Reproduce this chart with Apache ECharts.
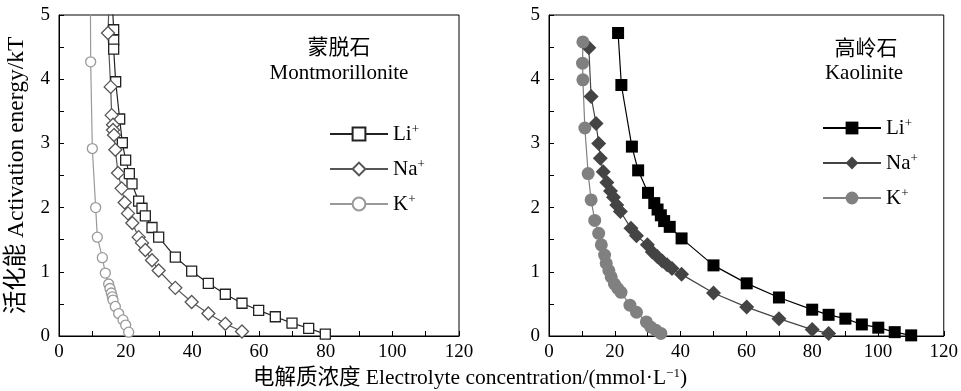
<!DOCTYPE html>
<html>
<head>
<meta charset="utf-8">
<script src="https://cdn.jsdelivr.net/npm/echarts@6/dist/echarts.min.js"></script>
<style>
html, body { margin: 0; padding: 0; background: #fff; }
#chart { width: 961px; height: 391px; }
</style>
</head>
<body>
<div id="chart"></div>
<script>
// 蒙脱石 Montmorillonite (open symbols)
var montLiX = [15.7, 16.4, 16.4, 16.4, 17.0, 18.2, 19.0, 20.0, 21.1, 21.9, 23.9, 24.9, 25.9, 27.9, 29.9, 34.9, 39.8, 44.8, 49.9, 54.9, 59.9, 64.9, 69.9, 74.9, 79.9];
var montLiY = [5.5, 4.77, 4.61, 4.47, 3.96, 3.38, 3.01, 2.74, 2.53, 2.37, 2.10, 1.99, 1.87, 1.69, 1.54, 1.23, 1.01, 0.82, 0.65, 0.51, 0.40, 0.30, 0.20, 0.12, 0.03];
var montNaX = [15.2, 14.7, 15.5, 15.8, 16.2, 16.2, 16.5, 16.9, 17.7, 18.8, 19.7, 20.7, 22.0, 23.9, 24.9, 25.9, 27.9, 29.9, 34.9, 39.8, 44.8, 49.9, 54.9];
var montNaY = [5.5, 4.72, 3.88, 3.44, 3.29, 3.21, 3.13, 2.90, 2.54, 2.30, 2.08, 1.91, 1.76, 1.54, 1.45, 1.34, 1.18, 1.02, 0.75, 0.53, 0.35, 0.19, 0.07];
var montKX = [9.4, 9.5, 10.0, 11.0, 11.5, 13.0, 13.9, 14.9, 15.3, 15.7, 16.0, 16.2, 16.9, 17.9, 19.2, 20.0, 20.9];
var montKY = [5.5, 4.27, 2.92, 2.00, 1.54, 1.22, 0.98, 0.81, 0.74, 0.67, 0.61, 0.56, 0.46, 0.35, 0.25, 0.17, 0.06];

// 高岭石 Kaolinite (filled symbols)
var kaoLiX = [21.0, 22.0, 25.2, 27.1, 30.1, 32.0, 33.0, 34.0, 35.0, 36.7, 40.3, 50.0, 60.1, 69.9, 80.0, 85.0, 90.1, 95.1, 100.1, 105.1, 110.1];
var kaoLiY = [4.72, 3.91, 2.95, 2.58, 2.23, 2.07, 1.97, 1.88, 1.79, 1.70, 1.52, 1.10, 0.82, 0.60, 0.41, 0.33, 0.27, 0.18, 0.13, 0.06, 0.01];
var kaoNaX = [12.1, 12.8, 14.3, 15.1, 15.6, 16.5, 17.6, 18.7, 19.6, 20.6, 21.7, 24.9, 26.6, 29.9, 31.4, 32.9, 34.4, 35.9, 37.4, 40.3, 50.0, 60.1, 69.9, 80.0, 85.0];
var kaoNaY = [4.49, 3.73, 3.31, 3.00, 2.77, 2.56, 2.39, 2.26, 2.16, 2.04, 1.94, 1.68, 1.56, 1.42, 1.31, 1.24, 1.17, 1.11, 1.05, 0.96, 0.67, 0.45, 0.27, 0.10, 0.04];
var kaoKX = [10.3, 10.2, 10.3, 10.9, 11.9, 12.8, 13.9, 15.1, 15.9, 16.9, 17.4, 18.2, 18.9, 19.9, 20.9, 21.9, 24.6, 26.6, 29.6, 30.9, 32.5, 34.0];
var kaoKY = [4.58, 4.25, 3.99, 3.24, 2.53, 2.12, 1.80, 1.60, 1.42, 1.26, 1.13, 1.02, 0.92, 0.81, 0.74, 0.68, 0.48, 0.37, 0.22, 0.14, 0.09, 0.04];

var ionLabels = {mLi: 'Li', mNa: 'Na', mK: 'K', kLi: 'Li', kNa: 'Na', kK: 'K'};

var FONT = "'Liberation Serif', 'Noto Sans CJK SC', serif";

function zip(xs, ys) {
    return xs.map(function (x, i) { return [x, ys[i]]; });
}

function makeX(idx) {
    return {
        type: 'value', gridIndex: idx, min: 0, max: 120, interval: 10,
        axisLine: {lineStyle: {color: '#000', width: 1}},
        axisTick: {inside: true, length: 5, lineStyle: {color: '#000'}},
        axisLabel: {
            margin: 7, fontSize: 19, color: '#000', fontFamily: FONT,
            formatter: function (v) { return v % 20 === 0 ? v : ''; }
        },
        splitLine: {show: false}
    };
}

function makeY(idx) {
    return {
        type: 'value', gridIndex: idx, min: 0, max: 5, interval: 0.5,
        axisLine: {show: true, lineStyle: {color: '#000', width: 1}},
        axisTick: {show: true, inside: true, length: 5, lineStyle: {color: '#000'}},
        axisLabel: {
            margin: 9, fontSize: 19, color: '#000', fontFamily: FONT,
            formatter: function (v) { return v % 1 === 0 ? v : ''; }
        },
        splitLine: {show: false}
    };
}

function lineSeries(name, idx, data, symbol, size, color, fill) {
    return {
        name: name, type: 'line', xAxisIndex: idx, yAxisIndex: idx,
        data: data, symbol: symbol, symbolSize: size, clip: true,
        showAllSymbol: true,
        lineStyle: {color: color, width: 1.2},
        itemStyle: {color: fill, borderColor: color, borderWidth: fill === '#fff' ? 1.3 : 0},
        emphasis: {disabled: true},
        z: 3
    };
}

function makeLegend(names, left, top) {
    return {
        data: names, orient: 'vertical', left: left, top: top, padding: 0,
        itemWidth: 58, itemHeight: 16, itemGap: 13,
        selectedMode: false,
        textStyle: {
            fontSize: 21, color: '#000', fontFamily: FONT, lineHeight: 22,
            rich: {
                n: {fontSize: 21, fontFamily: FONT, color: '#000'},
                s: {fontSize: 13, fontFamily: FONT, color: '#000', verticalAlign: 'top', lineHeight: 22}
            }
        },
        formatter: function (name) { return '{n|' + ionLabels[name] + '}{s|+}'; }
    };
}

function label(text, x, y) {
    return {type: 'text', style: {text: text, x: x, y: y, fontSize: 21, fontFamily: FONT, fill: '#000', textAlign: 'center', textVerticalAlign: 'middle'}};
}

var chart = echarts.init(document.getElementById('chart'), null, {renderer: 'canvas'});

var yLeft = makeY(0);
yLeft.name = '活化能 Activation energy/kT';
yLeft.nameLocation = 'middle';
yLeft.nameRotate = 90;
yLeft.nameGap = 30;
yLeft.nameTextStyle = {fontSize: 23.5, color: '#000', fontFamily: FONT};

var option = {
    backgroundColor: '#fff',
    animation: false,
    grid: [
        {left: 59, top: 15, width: 400, height: 321, show: true, borderColor: '#000', borderWidth: 1},
        {left: 549, top: 15, width: 398, height: 321, show: true, borderColor: '#000', borderWidth: 1}
    ],
    xAxis: [makeX(0), makeX(1)],
    yAxis: [yLeft, makeY(1)],
    legend: [
        makeLegend(['mLi', 'mNa', 'mK'], 329, 123),
        makeLegend(['kLi', 'kNa', 'kK'], 822, 117)
    ],
    graphic: [
        label('蒙脱石', 339, 48),
        label('Montmorillonite', 339, 73),
        label('高岭石', 866, 49),
        label('Kaolinite', 864, 73),
        {type: 'text', style: {
            text: '电解质浓度 Electrolyte concentration/(mmol·L{s|−1})',
            x: 470, y: 378, fontSize: 21.5, fontFamily: FONT, fill: '#000', textAlign: 'center', textVerticalAlign: 'middle',
            rich: {s: {fontSize: 13, fontFamily: FONT, fill: '#000', verticalAlign: 'top'}}
        }}
    ],
    series: [
        lineSeries('mLi', 0, zip(montLiX, montLiY), 'rect', 10, '#222', '#fff'),
        lineSeries('mNa', 0, zip(montNaX, montNaY), 'diamond', 13, '#555', '#fff'),
        lineSeries('mK', 0, zip(montKX, montKY), 'circle', 10, '#999', '#fff'),
        lineSeries('kLi', 1, zip(kaoLiX, kaoLiY), 'rect', 12, '#000', '#000'),
        lineSeries('kNa', 1, zip(kaoNaX, kaoNaY), 'diamond', 15, '#444', '#444'),
        lineSeries('kK', 1, zip(kaoKX, kaoKY), 'circle', 13, '#808080', '#808080')
    ]
};

chart.setOption(option);
</script>
</body>
</html>
